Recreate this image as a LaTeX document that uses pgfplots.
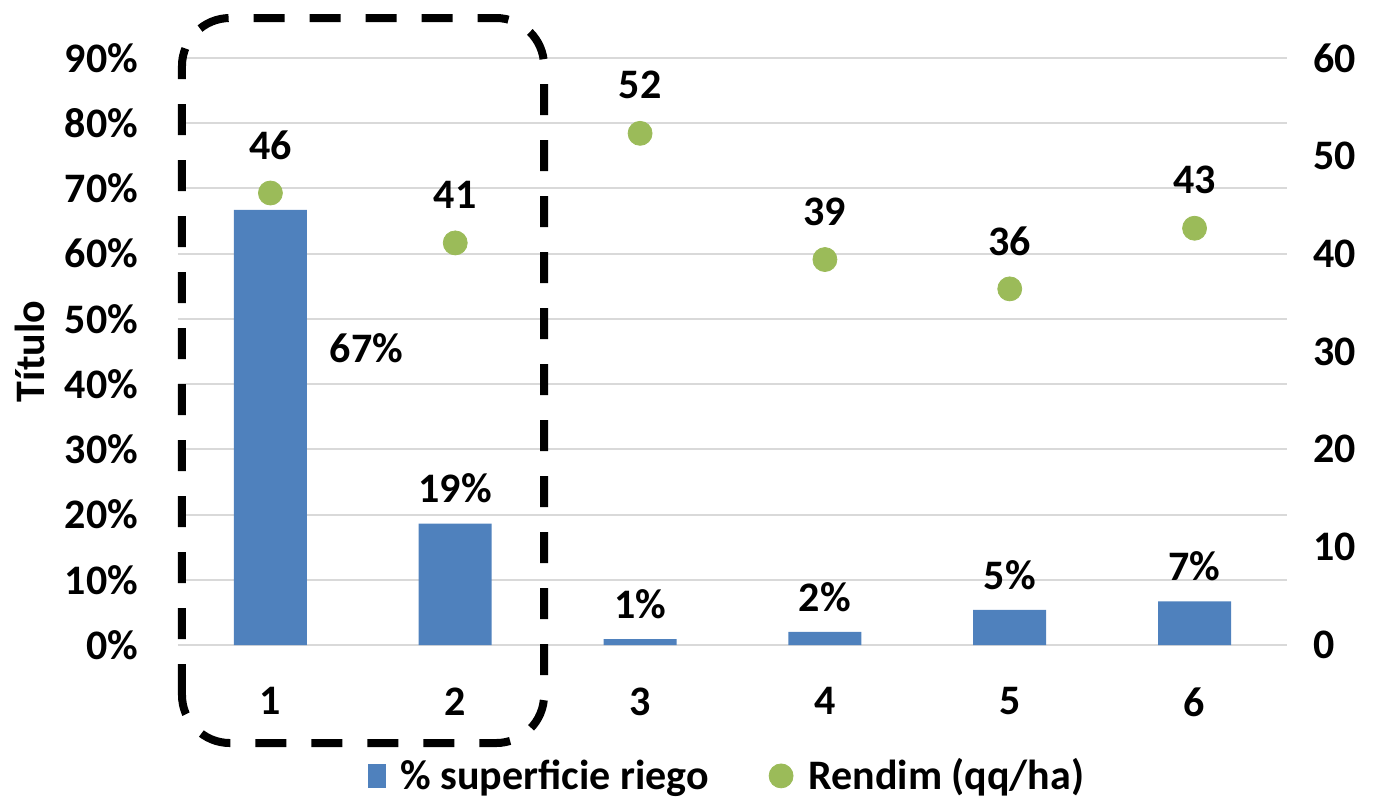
\documentclass[border=0pt]{standalone}
\usepackage{fontspec}
\setmainfont{Carlito}
\usepackage{pgfplots}
\pgfplotsset{compat=1.18}
\definecolor{barblue}{HTML}{4F81BD}
\definecolor{dotgreen}{HTML}{9BBB59}
\definecolor{gridgray}{HTML}{D9D9D9}
\newcommand{\cf}{\fontsize{21}{25}\selectfont\bfseries}
\begin{document}
\begin{tikzpicture}
\path[use as bounding box] (-89pt,-77pt) rectangle (597.5pt,322.5pt);
\begin{axis}[
  at={(0pt,0pt)}, anchor=south west,
  scale only axis, width=554.5pt, height=293.5pt,
  xmin=0.5, xmax=6.5, ymin=0, ymax=90,
  axis x line*=bottom, axis y line*=left,
  x axis line style={gridgray, line width=1pt, -},
  y axis line style={draw=none},
  ytick={0,10,...,90},
  yticklabels={0\%,10\%,20\%,30\%,40\%,50\%,60\%,70\%,80\%,90\%},
  xtick={1,2,3,4,5,6}, xticklabels={1,2,3,4,5,6},
  ymajorgrids, grid style={gridgray, line width=1pt},
  major tick length=0,
  /pgf/number format/assume math mode=true,
  tick label style={font=\cf},
  yticklabel style={xshift=-16.5pt},
  xticklabel style={yshift=-17.7pt},
  ylabel={Título},
  ylabel style={at={(axis description cs:-0.1335,0.5)}, anchor=center, font=\cf},
  clip=false,
]
\addplot[ybar, bar width=36.5pt, fill=barblue, draw=none,
  nodes near coords, point meta=explicit symbolic,
  nodes near coords style={font=\cf, anchor=center, yshift=17.5pt, text=black}]
  coordinates {(1,66.7)[] (2,18.6)[19\%] (3,0.9)[1\%] (4,2.0)[2\%] (5,5.4)[5\%] (6,6.7)[7\%]};
\node[font=\cf] at (axis cs:1.52,45.5) {67\%};
\draw[black, line width=4pt, dash pattern=on 15.5pt off 12.5pt, rounded corners=24pt]
  (axis cs:0.5216,-15.03) rectangle (axis cs:2.4806,96.13);
\end{axis}
\begin{axis}[
  at={(0pt,0pt)}, anchor=south west,
  scale only axis, width=554.5pt, height=293.5pt,
  xmin=0.5, xmax=6.5, ymin=0, ymax=60,
  axis x line=none, axis y line*=right,
  y axis line style={draw=none},
  ytick={0,10,...,60}, yticklabels={0,10,20,30,40,50,60},
  major tick length=0,
  /pgf/number format/assume math mode=true,
  tick label style={font=\cf},
  yticklabel style={xshift=9.7pt},
  clip=false,
  legend columns=2,
  legend style={draw=none, fill=none, inner sep=0pt, at={(axis description cs:0.495,-0.223)}, anchor=center,
    font=\cf, nodes={inner sep=1pt},
    /tikz/every odd column/.append style={column sep=6.5pt},
    /tikz/every even column/.append style={column sep=29pt}},
]
\addlegendimage{legend image code/.code={\fill[barblue] (0pt,-5.75pt) rectangle (8.5pt,5.75pt);}}
\addlegendentry{\% superficie riego}
\addplot[only marks, mark=*, mark size=6pt, mark options={fill=dotgreen, draw=dotgreen},
  legend image code/.code={\fill[dotgreen] (6pt,0pt) circle (6pt);},
  nodes near coords, point meta=explicit symbolic,
  nodes near coords style={font=\cf, anchor=center, yshift=24pt, text=black}]
  coordinates {(1,46.2)[46] (2,41.1)[41] (3,52.3)[52] (4,39.4)[39] (5,36.4)[36] (6,42.6)[43]};
\addlegendentry{Rendim (qq/ha)}
\end{axis}
\end{tikzpicture}
\end{document}
